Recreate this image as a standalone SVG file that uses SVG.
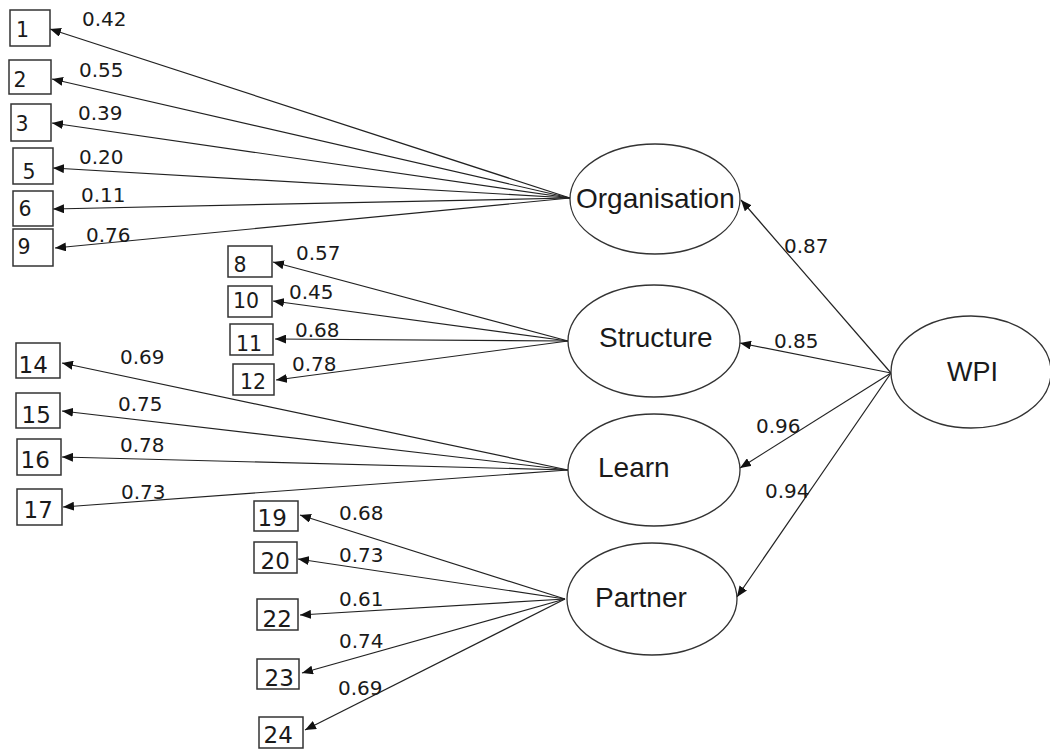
<svg xmlns="http://www.w3.org/2000/svg" width="1050" height="749" viewBox="0 0 1050 749">
<style>
text{font-family:"Liberation Sans",Arial,sans-serif;fill:#1a1a1a}
.box{fill:#fff;stroke:#333;stroke-width:1.5}
.ell{fill:#fff;stroke:#333;stroke-width:1.3}
text.bn,text.bl,.lbl text{font-family:"DejaVu Sans",sans-serif}
.bn{font-size:20.5px}
.bl{font-size:23px}
.lat{font-size:28px}
.lbl text{font-size:20px}
.con line{stroke:#222;stroke-width:1.2;marker-end:url(#ah)}
</style>
<defs>
<marker id="ah" markerUnits="userSpaceOnUse" markerWidth="11" markerHeight="9" viewBox="0 0 11 9" refX="11" refY="4.5" orient="auto">
<path d="M0,0 L11,4.5 L0,9 z" fill="#111"/>
</marker>
</defs>
<rect width="1050" height="749" fill="#fff"/>
<g class="con" id="connectors">
<line x1="570" y1="198" x2="50" y2="29"/>
<line x1="570" y1="198" x2="52" y2="79"/>
<line x1="570" y1="198" x2="52" y2="123"/>
<line x1="570" y1="198" x2="53" y2="168"/>
<line x1="570" y1="198" x2="53" y2="209"/>
<line x1="570" y1="198" x2="55" y2="248"/>
<line x1="568" y1="341" x2="273" y2="262"/>
<line x1="568" y1="341" x2="273" y2="301"/>
<line x1="568" y1="341" x2="275" y2="339"/>
<line x1="568" y1="341" x2="276" y2="380"/>
<line x1="568" y1="470" x2="62" y2="363"/>
<line x1="568" y1="470" x2="62" y2="411"/>
<line x1="568" y1="470" x2="62" y2="457"/>
<line x1="568" y1="470" x2="63" y2="507"/>
<line x1="565" y1="599" x2="300" y2="515"/>
<line x1="565" y1="599" x2="298" y2="559"/>
<line x1="565" y1="599" x2="300" y2="615"/>
<line x1="565" y1="599" x2="302" y2="673"/>
<line x1="565" y1="599" x2="305" y2="730"/>
<line x1="891" y1="373" x2="741" y2="200"/>
<line x1="891" y1="373" x2="740" y2="343"/>
<line x1="891" y1="373" x2="740" y2="468"/>
<line x1="891" y1="373" x2="737" y2="597"/>
</g>
<g id="labels" class="lbl">
<text x="82" y="26">0.42</text>
<text x="79" y="77">0.55</text>
<text x="78" y="120">0.39</text>
<text x="79" y="164">0.20</text>
<text x="81" y="202">0.11</text>
<text x="86" y="242">0.76</text>
<text x="296" y="260">0.57</text>
<text x="289" y="299">0.45</text>
<text x="295" y="337">0.68</text>
<text x="292" y="371">0.78</text>
<text x="120" y="364">0.69</text>
<text x="118" y="411">0.75</text>
<text x="120" y="452">0.78</text>
<text x="121" y="499">0.73</text>
<text x="339" y="520">0.68</text>
<text x="339" y="562">0.73</text>
<text x="339" y="606">0.61</text>
<text x="339" y="648">0.74</text>
<text x="338" y="695">0.69</text>
<text x="784" y="253">0.87</text>
<text x="774" y="348">0.85</text>
<text x="756" y="433">0.96</text>
<text x="765" y="498">0.94</text>
</g>
<g id="n1"><rect class="box" x="10" y="10" width="40" height="36"/><text class="bn" x="16" y="37">1</text></g>
<g id="n2"><rect class="box" x="9" y="60" width="42" height="34"/><text class="bn" x="13.5" y="87">2</text></g>
<g id="n3"><rect class="box" x="11" y="104" width="40" height="37"/><text class="bn" x="15.5" y="131">3</text></g>
<g id="n5"><rect class="box" x="13" y="148" width="40" height="36"/><text class="bn" x="22.5" y="179">5</text></g>
<g id="n6"><rect class="box" x="13" y="191" width="40" height="35"/><text class="bn" x="18.5" y="216">6</text></g>
<g id="n9"><rect class="box" x="13" y="229" width="40" height="37"/><text class="bn" x="17.5" y="254">9</text></g>
<g id="n8"><rect class="box" x="228" y="246" width="44" height="31"/><text class="bn" x="233.5" y="272">8</text></g>
<g id="n10"><rect class="box" x="228" y="286" width="44" height="31"/><text class="bn" x="233" y="308">10</text></g>
<g id="n11"><rect class="box" x="230" y="324" width="43" height="31"/><text class="bn" x="236" y="351">11</text></g>
<g id="n12"><rect class="box" x="233" y="364" width="41" height="31"/><text class="bn" x="240" y="389">12</text></g>
<g id="n14"><rect class="box" x="16" y="343" width="44" height="35"/><text class="bl" x="18.5" y="373">14</text></g>
<g id="n15"><rect class="box" x="16" y="393" width="44" height="35"/><text class="bl" x="21.5" y="423">15</text></g>
<g id="n16"><rect class="box" x="17" y="439" width="44" height="36"/><text class="bl" x="20.5" y="468">16</text></g>
<g id="n17"><rect class="box" x="17" y="489" width="45" height="36"/><text class="bl" x="23.5" y="518">17</text></g>
<g id="n19"><rect class="box" x="254" y="501" width="44" height="30"/><text class="bl" x="257.5" y="526">19</text></g>
<g id="n20"><rect class="box" x="254" y="542" width="43" height="31"/><text class="bl" x="260.5" y="569">20</text></g>
<g id="n22"><rect class="box" x="257" y="599" width="41" height="31"/><text class="bl" x="262.5" y="627">22</text></g>
<g id="n23"><rect class="box" x="257" y="659" width="42" height="30"/><text class="bl" x="264.5" y="686">23</text></g>
<g id="n24"><rect class="box" x="259" y="717" width="44" height="31"/><text class="bl" x="263.5" y="743">24</text></g>
<g id="organisation"><ellipse class="ell" cx="655" cy="199" rx="85" ry="55"/><text class="lat" x="576" y="208">Organisation</text></g>
<g id="structure"><ellipse class="ell" cx="654" cy="341" rx="86" ry="56"/><text class="lat" x="599" y="347">Structure</text></g>
<g id="learn"><ellipse class="ell" cx="654" cy="470" rx="86" ry="56"/><text class="lat" x="598" y="477">Learn</text></g>
<g id="partner"><ellipse class="ell" cx="652" cy="599" rx="85" ry="56"/><text class="lat" x="595" y="607">Partner</text></g>
<g id="wpi"><ellipse class="ell" cx="971" cy="372" rx="80" ry="56"/><text class="lat" x="947" y="381" style="font-size:27px">WPI</text></g>
</svg>
